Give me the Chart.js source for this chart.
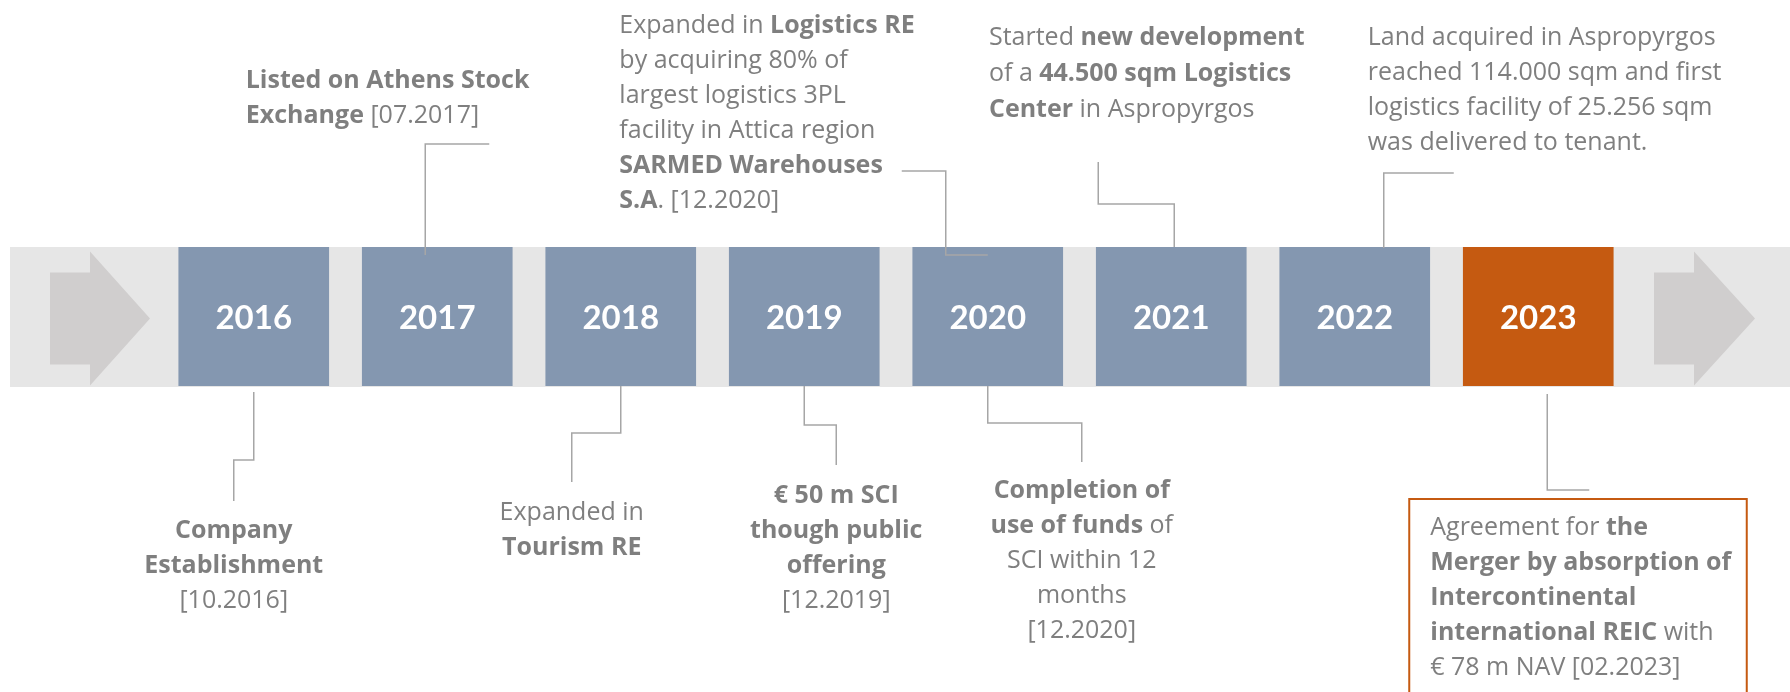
<!DOCTYPE html>
<html>
<head>
<meta charset="utf-8">
<script src="https://cdn.jsdelivr.net/npm/chart.js@4/dist/chart.umd.min.js"></script>
<style>
  html, body { margin: 0; padding: 0; background: #fff; }
  canvas { display: block; }
</style>
</head>
<body>
<canvas id="timeline" width="1790" height="692"></canvas>
<script>
// ---- data ----
var years = ['2016', '2017', '2018', '2019', '2020', '2021', '2022', '2023'];
var boxSpan = [[0, 1], [0, 1], [0, 1], [0, 1], [0, 1], [0, 1], [0, 1], [0, 1]];
var highlightYear = '2023';

// text between ** ** is bold
var notesAbove = {
    '2017': ['**Listed on Athens Stock**', '**Exchange** [07.2017]'],
    '2020': ['Expanded in **Logistics RE**', 'by acquiring 80% of', 'largest logistics 3PL',
             'facility in Attica region', '**SARMED Warehouses**', '**S.A**. [12.2020]'],
    '2021': ['Started **new development**', 'of a **44.500 sqm Logistics**', '**Center** in Aspropyrgos'],
    '2022': ['Land acquired in Aspropyrgos', 'reached 114.000 sqm and first',
             'logistics facility of 25.256 sqm', 'was delivered to tenant.']
};
var notesBelow = {
    '2016': ['**Company**', '**Establishment**', '[10.2016]'],
    '2018': ['Expanded in', '**Tourism RE**'],
    '2019': ['**€ 50 m SCI**', '**though public**', '**offering**', '[12.2019]'],
    '2020': ['**Completion of**', '**use of funds** of', 'SCI within 12', 'months', '[12.2020]'],
    '2023': ['Agreement for **the**', '**Merger by absorption of**', '**Intercontinental**',
             '**international REIC** with', '€ 78 m NAV [02.2023]']
};

// ---- styles ----
var BOX = '#8497B0';
var HIGHLIGHT = '#C55A11';
var BAND = '#E6E6E6';
var ARROW = '#D0CECE';
var TEXT = '#7F7F7F';
var LINK = '#A6A6A6';
var NOTE_FONT = '"Open Sans", "Noto Sans", sans-serif';
var NOTE_SIZE = 25;
var YEAR_FONT = 'bold 33px Lato, "Open Sans", sans-serif';

// callout placement: dx from box centre, y from box top (above) / bottom (below)
var layoutAbove = {
    '2017': { dx: -191.5, align: 'left', y: -159, lh: 35, path: [[-12, 8], [-12, -103], [52, -103]] },
    '2020': { dx: -368.4, align: 'left', y: -214, lh: 35, path: [[-86, -76], [-42, -76], [-42, 8], [0, 8]] },
    '2021': { dx: -182.3, align: 'left', y: -202, lh: 36, path: [[-73, -85], [-73, -43], [3, -43], [3, 0]] },
    '2022': { dx: 13, align: 'left', y: -202, lh: 35, path: [[99, -74], [29, -74], [29, 1]] }
};
var layoutBelow = {
    '2016': { dx: -20, align: 'center', y: 152, lh: 35, path: [[0, 6], [0, 74], [-20, 74], [-20, 115]] },
    '2018': { dx: -49, align: 'center', y: 134, lh: 35, path: [[0, 0], [0, 47], [-49, 47], [-49, 96]] },
    '2019': { dx: 32, align: 'center', y: 117, lh: 35, path: [[0, 0], [0, 39], [32, 39], [32, 79]] },
    '2020': { dx: 94, align: 'center', y: 112, lh: 35, path: [[0, 0], [0, 37], [94, 37], [94, 76]] },
    '2023': { dx: -108, align: 'left', y: 149, lh: 35, path: [[9, 8], [9, 104], [51, 104]],
              frame: [-129, 113, 208.5, 330] }
};

function noteFont(bold) {
    return (bold ? 'bold ' : '') + NOTE_SIZE + 'px ' + NOTE_FONT;
}

function drawRich(ctx, line, x, y, align) {
    var segs = line.split('**').map(function (t, i) {
        return { t: t, bold: i % 2 === 1 };
    }).filter(function (s) { return s.t.length; });
    var total = 0;
    segs.forEach(function (s) {
        ctx.font = noteFont(s.bold);
        s.w = ctx.measureText(s.t).width;
        total += s.w;
    });
    var cx = align === 'center' ? x - total / 2 : x;
    ctx.textAlign = 'left';
    ctx.textBaseline = 'alphabetic';
    segs.forEach(function (s) {
        ctx.font = noteFont(s.bold);
        ctx.fillText(s.t, cx, y);
        cx += s.w;
    });
}

function arrow(ctx, x0, xBase, xTip, mid, body, head) {
    ctx.beginPath();
    ctx.moveTo(x0, mid - body);
    ctx.lineTo(xBase, mid - body);
    ctx.lineTo(xBase, mid - head);
    ctx.lineTo(xTip, mid);
    ctx.lineTo(xBase, mid + head);
    ctx.lineTo(xBase, mid + body);
    ctx.lineTo(x0, mid + body);
    ctx.closePath();
    ctx.fill();
}

var timelinePlugin = {
    id: 'timeline',
    beforeDatasetsDraw: function (chart) {
        var ctx = chart.ctx, a = chart.chartArea;
        ctx.save();
        ctx.fillStyle = '#fff';
        ctx.fillRect(0, 0, chart.width, chart.height);
        ctx.fillStyle = BAND;
        ctx.fillRect(10, a.top, chart.width - 10, a.bottom - a.top + 1);
        var mid = (a.top + a.bottom) / 2 + 2;
        ctx.fillStyle = ARROW;
        arrow(ctx, a.left - 112, a.left - 72, a.left - 12, mid, 46, 67);
        arrow(ctx, a.right + 24, a.right + 64, a.right + 125, mid, 46, 67);
        ctx.restore();
    },
    afterDatasetsDraw: function (chart) {
        var ctx = chart.ctx;
        var bars = chart.getDatasetMeta(0).data;
        ctx.save();

        // year labels
        ctx.fillStyle = '#fff';
        ctx.font = YEAR_FONT;
        ctx.textAlign = 'center';
        ctx.textBaseline = 'middle';
        bars.forEach(function (bar, i) {
            ctx.fillText(years[i], bar.x, (bar.y + bar.base) / 2 + 2);
        });

        function callouts(notes, layout, edge) {
            Object.keys(notes).forEach(function (year) {
                var bar = bars[years.indexOf(year)];
                var l = layout[year];
                var x0 = bar.x, y0 = edge(bar);
                ctx.strokeStyle = LINK;
                ctx.lineWidth = 1.5;
                ctx.beginPath();
                l.path.forEach(function (p, k) {
                    if (k === 0) ctx.moveTo(x0 + p[0], y0 + p[1]);
                    else ctx.lineTo(x0 + p[0], y0 + p[1]);
                });
                ctx.stroke();
                if (l.frame) {
                    ctx.strokeStyle = HIGHLIGHT;
                    ctx.lineWidth = 2;
                    ctx.strokeRect(x0 + l.frame[0], y0 + l.frame[1],
                                   l.frame[2] - l.frame[0], l.frame[3] - l.frame[1]);
                }
                ctx.fillStyle = TEXT;
                notes[year].forEach(function (line, k) {
                    drawRich(ctx, line, x0 + l.dx, y0 + l.y + k * l.lh, l.align);
                });
            });
        }
        callouts(notesAbove, layoutAbove, function (b) { return b.y; });
        callouts(notesBelow, layoutBelow, function (b) { return b.base; });
        ctx.restore();
    }
};

var ctx = document.getElementById('timeline').getContext('2d');
var chart = new Chart(ctx, {
    type: 'bar',
    data: {
        labels: years,
        datasets: [{
            data: boxSpan,
            backgroundColor: years.map(function (y) { return y === highlightYear ? HIGHLIGHT : BOX; }),
            borderWidth: 0,
            barThickness: 150
        }]
    },
    options: {
        responsive: false,
        animation: false,
        layout: { padding: { left: 162, right: 160, top: 247, bottom: 306 } },
        plugins: { legend: { display: false }, tooltip: { enabled: false } },
        scales: {
            x: { display: false },
            y: { display: false, min: 0, max: 1 }
        }
    },
    plugins: [timelinePlugin]
});
</script>
</body>
</html>
